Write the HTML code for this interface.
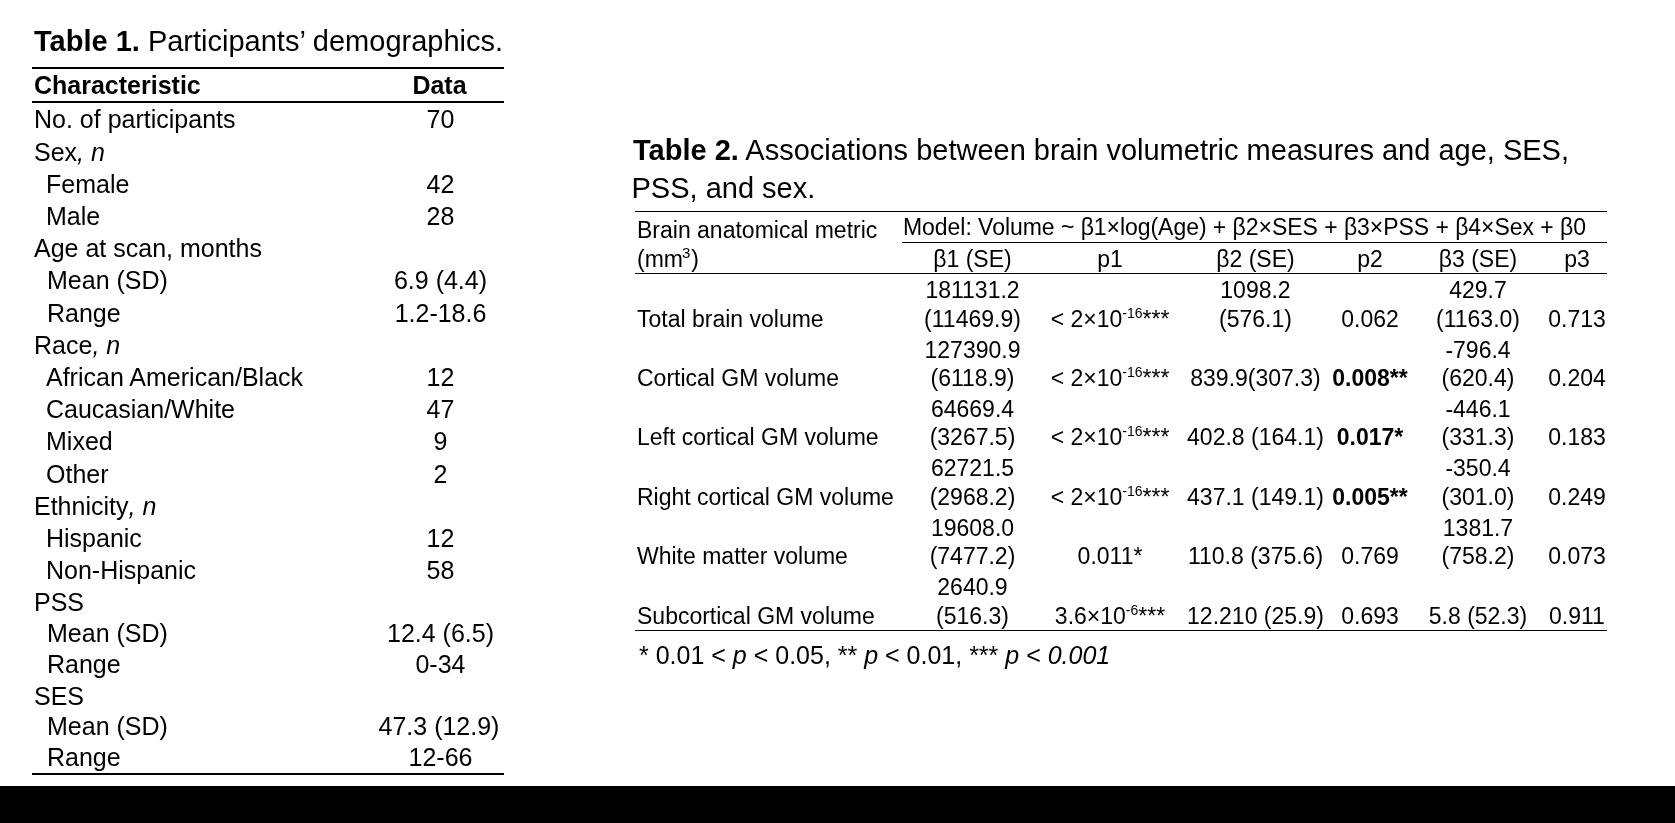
<!DOCTYPE html>
<html><head><meta charset="utf-8"><style>
html,body{margin:0;padding:0;background:#fff;}
body{width:1675px;height:823px;position:relative;overflow:hidden;font-family:"Liberation Sans", sans-serif;color:#000;}
.t{position:absolute;white-space:nowrap;}
body{will-change:transform;}
.r{position:absolute;}
sup{font-size:14px;vertical-align:0;position:relative;top:-9px;line-height:0;}
</style></head><body>
<div class="t" style="left:34px;top:25px;font-size:29px;line-height:32px;"><b>Table 1.</b> Participants’ demographics.</div>
<div class="r" style="left:32px;top:67px;width:472px;height:2px;background:#000"></div>
<div class="t" style="left:34px;top:71px;font-size:25px;line-height:28px;font-weight:bold;">Characteristic</div>
<div class="t" style="left:379.5px;width:120px;text-align:center;top:71px;font-size:25px;line-height:28px;font-weight:bold;">Data</div>
<div class="r" style="left:32px;top:101px;width:472px;height:2px;background:#000"></div>
<div class="t" style="left:34px;top:105px;font-size:25px;line-height:28px;">No. of participants</div>
<div class="t" style="left:360.5px;width:160px;text-align:center;top:105px;font-size:25px;line-height:28px;">70</div>
<div class="t" style="left:34px;top:138px;font-size:25px;line-height:28px;">Sex<i>, n</i></div>
<div class="t" style="left:46px;top:170px;font-size:25px;line-height:28px;">Female</div>
<div class="t" style="left:360.5px;width:160px;text-align:center;top:170px;font-size:25px;line-height:28px;">42</div>
<div class="t" style="left:46px;top:202px;font-size:25px;line-height:28px;">Male</div>
<div class="t" style="left:360.5px;width:160px;text-align:center;top:202px;font-size:25px;line-height:28px;">28</div>
<div class="t" style="left:34px;top:234px;font-size:25px;line-height:28px;">Age at scan, months</div>
<div class="t" style="left:47px;top:266px;font-size:25px;line-height:28px;">Mean (SD)</div>
<div class="t" style="left:360.5px;width:160px;text-align:center;top:266px;font-size:25px;line-height:28px;">6.9 (4.4)</div>
<div class="t" style="left:47px;top:299px;font-size:25px;line-height:28px;">Range</div>
<div class="t" style="left:360.5px;width:160px;text-align:center;top:299px;font-size:25px;line-height:28px;">1.2-18.6</div>
<div class="t" style="left:34px;top:331px;font-size:25px;line-height:28px;">Race<i>, n</i></div>
<div class="t" style="left:46px;top:363px;font-size:25px;line-height:28px;">African American/Black</div>
<div class="t" style="left:360.5px;width:160px;text-align:center;top:363px;font-size:25px;line-height:28px;">12</div>
<div class="t" style="left:46px;top:395px;font-size:25px;line-height:28px;">Caucasian/White</div>
<div class="t" style="left:360.5px;width:160px;text-align:center;top:395px;font-size:25px;line-height:28px;">47</div>
<div class="t" style="left:46px;top:427px;font-size:25px;line-height:28px;">Mixed</div>
<div class="t" style="left:360.5px;width:160px;text-align:center;top:427px;font-size:25px;line-height:28px;">9</div>
<div class="t" style="left:46px;top:460px;font-size:25px;line-height:28px;">Other</div>
<div class="t" style="left:360.5px;width:160px;text-align:center;top:460px;font-size:25px;line-height:28px;">2</div>
<div class="t" style="left:34px;top:492px;font-size:25px;line-height:28px;">Ethnicity<i>, n</i></div>
<div class="t" style="left:46px;top:524px;font-size:25px;line-height:28px;">Hispanic</div>
<div class="t" style="left:360.5px;width:160px;text-align:center;top:524px;font-size:25px;line-height:28px;">12</div>
<div class="t" style="left:46px;top:556px;font-size:25px;line-height:28px;">Non-Hispanic</div>
<div class="t" style="left:360.5px;width:160px;text-align:center;top:556px;font-size:25px;line-height:28px;">58</div>
<div class="t" style="left:34px;top:588px;font-size:25px;line-height:28px;">PSS</div>
<div class="t" style="left:47px;top:619px;font-size:25px;line-height:28px;">Mean (SD)</div>
<div class="t" style="left:360.5px;width:160px;text-align:center;top:619px;font-size:25px;line-height:28px;">12.4 (6.5)</div>
<div class="t" style="left:47px;top:650px;font-size:25px;line-height:28px;">Range</div>
<div class="t" style="left:360.5px;width:160px;text-align:center;top:650px;font-size:25px;line-height:28px;">0-34</div>
<div class="t" style="left:34px;top:682px;font-size:25px;line-height:28px;">SES</div>
<div class="t" style="left:47px;top:712px;font-size:25px;line-height:28px;">Mean (SD)</div>
<div class="t" style="left:359.0px;width:160px;text-align:center;top:712px;font-size:25px;line-height:28px;">47.3 (12.9)</div>
<div class="t" style="left:47px;top:743px;font-size:25px;line-height:28px;">Range</div>
<div class="t" style="left:360.5px;width:160px;text-align:center;top:743px;font-size:25px;line-height:28px;">12-66</div>
<div class="r" style="left:32px;top:773px;width:472px;height:2px;background:#000"></div>
<div class="r" style="left:0;top:786px;width:1675px;height:37px;background:#000"></div>
<div class="t" style="left:633px;top:134px;font-size:29px;line-height:32px;"><b>Table 2.</b> Associations between brain volumetric measures and age, SES,</div>
<div class="t" style="left:631.5px;top:172px;font-size:29px;line-height:32px;">PSS, and sex.</div>
<div class="r" style="left:635px;top:211px;width:972px;height:1px;background:#000"></div>
<div class="t" style="left:637px;top:217px;font-size:23px;line-height:26px;">Brain anatomical metric</div>
<div class="t" style="left:637px;top:246px;font-size:23px;line-height:26px;">(mm<sup style="font-size:15px;margin-left:-1px;margin-right:1px">3</sup>)</div>
<div class="t" style="left:903px;top:214px;font-size:23px;line-height:26px;letter-spacing:-0.045px;">Model: Volume ~ β1×log(Age) + β2×SES + β3×PSS + β4×Sex + β0</div>
<div class="r" style="left:902px;top:242px;width:705px;height:1px;background:#000"></div>
<div class="t" style="left:897.5px;width:150px;text-align:center;top:246px;font-size:23px;line-height:26px;">β1 (SE)</div>
<div class="t" style="left:1035.0px;width:150px;text-align:center;top:246px;font-size:23px;line-height:26px;">p1</div>
<div class="t" style="left:1180.5px;width:150px;text-align:center;top:246px;font-size:23px;line-height:26px;">β2 (SE)</div>
<div class="t" style="left:1295.0px;width:150px;text-align:center;top:246px;font-size:23px;line-height:26px;">p2</div>
<div class="t" style="left:1403.0px;width:150px;text-align:center;top:246px;font-size:23px;line-height:26px;">β3 (SE)</div>
<div class="t" style="left:1502.0px;width:150px;text-align:center;top:246px;font-size:23px;line-height:26px;">p3</div>
<div class="r" style="left:635px;top:273px;width:972px;height:1px;background:#000"></div>
<div class="t" style="left:637px;top:306px;font-size:23px;line-height:26px;">Total brain volume</div>
<div class="t" style="left:897.5px;width:150px;text-align:center;top:277px;font-size:23px;line-height:26px;">181131.2</div>
<div class="t" style="left:897.5px;width:150px;text-align:center;top:306px;font-size:23px;line-height:26px;">(11469.9)</div>
<div class="t" style="left:1035.0px;width:150px;text-align:center;top:306px;font-size:23px;line-height:26px;">&lt; 2×10<sup>-16</sup>***</div>
<div class="t" style="left:1180.5px;width:150px;text-align:center;top:277px;font-size:23px;line-height:26px;">1098.2</div>
<div class="t" style="left:1180.5px;width:150px;text-align:center;top:306px;font-size:23px;line-height:26px;">(576.1)</div>
<div class="t" style="left:1295.0px;width:150px;text-align:center;top:306px;font-size:23px;line-height:26px;">0.062</div>
<div class="t" style="left:1403.0px;width:150px;text-align:center;top:277px;font-size:23px;line-height:26px;">429.7</div>
<div class="t" style="left:1403.0px;width:150px;text-align:center;top:306px;font-size:23px;line-height:26px;">(1163.0)</div>
<div class="t" style="left:1502.0px;width:150px;text-align:center;top:306px;font-size:23px;line-height:26px;">0.713</div>
<div class="t" style="left:637px;top:365px;font-size:23px;line-height:26px;">Cortical GM volume</div>
<div class="t" style="left:897.5px;width:150px;text-align:center;top:337px;font-size:23px;line-height:26px;">127390.9</div>
<div class="t" style="left:897.5px;width:150px;text-align:center;top:365px;font-size:23px;line-height:26px;">(6118.9)</div>
<div class="t" style="left:1035.0px;width:150px;text-align:center;top:365px;font-size:23px;line-height:26px;">&lt; 2×10<sup>-16</sup>***</div>
<div class="t" style="left:1180.5px;width:150px;text-align:center;top:365px;font-size:23px;line-height:26px;">839.9(307.3)</div>
<div class="t" style="left:1295.0px;width:150px;text-align:center;top:365px;font-size:23px;line-height:26px;font-weight:bold;">0.008**</div>
<div class="t" style="left:1403.0px;width:150px;text-align:center;top:337px;font-size:23px;line-height:26px;">-796.4</div>
<div class="t" style="left:1403.0px;width:150px;text-align:center;top:365px;font-size:23px;line-height:26px;">(620.4)</div>
<div class="t" style="left:1502.0px;width:150px;text-align:center;top:365px;font-size:23px;line-height:26px;">0.204</div>
<div class="t" style="left:637px;top:424px;font-size:23px;line-height:26px;">Left cortical GM volume</div>
<div class="t" style="left:897.5px;width:150px;text-align:center;top:396px;font-size:23px;line-height:26px;">64669.4</div>
<div class="t" style="left:897.5px;width:150px;text-align:center;top:424px;font-size:23px;line-height:26px;">(3267.5)</div>
<div class="t" style="left:1035.0px;width:150px;text-align:center;top:424px;font-size:23px;line-height:26px;">&lt; 2×10<sup>-16</sup>***</div>
<div class="t" style="left:1180.5px;width:150px;text-align:center;top:424px;font-size:23px;line-height:26px;">402.8 (164.1)</div>
<div class="t" style="left:1295.0px;width:150px;text-align:center;top:424px;font-size:23px;line-height:26px;font-weight:bold;">0.017*</div>
<div class="t" style="left:1403.0px;width:150px;text-align:center;top:396px;font-size:23px;line-height:26px;">-446.1</div>
<div class="t" style="left:1403.0px;width:150px;text-align:center;top:424px;font-size:23px;line-height:26px;">(331.3)</div>
<div class="t" style="left:1502.0px;width:150px;text-align:center;top:424px;font-size:23px;line-height:26px;">0.183</div>
<div class="t" style="left:637px;top:484px;font-size:23px;line-height:26px;">Right cortical GM volume</div>
<div class="t" style="left:897.5px;width:150px;text-align:center;top:455px;font-size:23px;line-height:26px;">62721.5</div>
<div class="t" style="left:897.5px;width:150px;text-align:center;top:484px;font-size:23px;line-height:26px;">(2968.2)</div>
<div class="t" style="left:1035.0px;width:150px;text-align:center;top:484px;font-size:23px;line-height:26px;">&lt; 2×10<sup>-16</sup>***</div>
<div class="t" style="left:1180.5px;width:150px;text-align:center;top:484px;font-size:23px;line-height:26px;">437.1 (149.1)</div>
<div class="t" style="left:1295.0px;width:150px;text-align:center;top:484px;font-size:23px;line-height:26px;font-weight:bold;">0.005**</div>
<div class="t" style="left:1403.0px;width:150px;text-align:center;top:455px;font-size:23px;line-height:26px;">-350.4</div>
<div class="t" style="left:1403.0px;width:150px;text-align:center;top:484px;font-size:23px;line-height:26px;">(301.0)</div>
<div class="t" style="left:1502.0px;width:150px;text-align:center;top:484px;font-size:23px;line-height:26px;">0.249</div>
<div class="t" style="left:637px;top:543px;font-size:23px;line-height:26px;">White matter volume</div>
<div class="t" style="left:897.5px;width:150px;text-align:center;top:515px;font-size:23px;line-height:26px;">19608.0</div>
<div class="t" style="left:897.5px;width:150px;text-align:center;top:543px;font-size:23px;line-height:26px;">(7477.2)</div>
<div class="t" style="left:1035.0px;width:150px;text-align:center;top:543px;font-size:23px;line-height:26px;">0.011*</div>
<div class="t" style="left:1180.5px;width:150px;text-align:center;top:543px;font-size:23px;line-height:26px;">110.8 (375.6)</div>
<div class="t" style="left:1295.0px;width:150px;text-align:center;top:543px;font-size:23px;line-height:26px;">0.769</div>
<div class="t" style="left:1403.0px;width:150px;text-align:center;top:515px;font-size:23px;line-height:26px;">1381.7</div>
<div class="t" style="left:1403.0px;width:150px;text-align:center;top:543px;font-size:23px;line-height:26px;">(758.2)</div>
<div class="t" style="left:1502.0px;width:150px;text-align:center;top:543px;font-size:23px;line-height:26px;">0.073</div>
<div class="t" style="left:637px;top:603px;font-size:23px;line-height:26px;">Subcortical GM volume</div>
<div class="t" style="left:897.5px;width:150px;text-align:center;top:574px;font-size:23px;line-height:26px;">2640.9</div>
<div class="t" style="left:897.5px;width:150px;text-align:center;top:603px;font-size:23px;line-height:26px;">(516.3)</div>
<div class="t" style="left:1035.0px;width:150px;text-align:center;top:603px;font-size:23px;line-height:26px;">3.6×10<sup>-6</sup>***</div>
<div class="t" style="left:1180.5px;width:150px;text-align:center;top:603px;font-size:23px;line-height:26px;">12.210 (25.9)</div>
<div class="t" style="left:1295.0px;width:150px;text-align:center;top:603px;font-size:23px;line-height:26px;">0.693</div>
<div class="t" style="left:1403.0px;width:150px;text-align:center;top:603px;font-size:23px;line-height:26px;">5.8 (52.3)</div>
<div class="t" style="left:1502.0px;width:150px;text-align:center;top:603px;font-size:23px;line-height:26px;">0.911</div>
<div class="r" style="left:635px;top:630px;width:972px;height:1px;background:#000"></div>
<div class="t" style="left:639px;top:641px;font-size:25px;line-height:28px;">* 0.01 &lt; <i>p</i> &lt; 0.05, ** <i>p</i> &lt; 0.01, *** <i>p</i> &lt; <i>0.001</i></div>
</body></html>
